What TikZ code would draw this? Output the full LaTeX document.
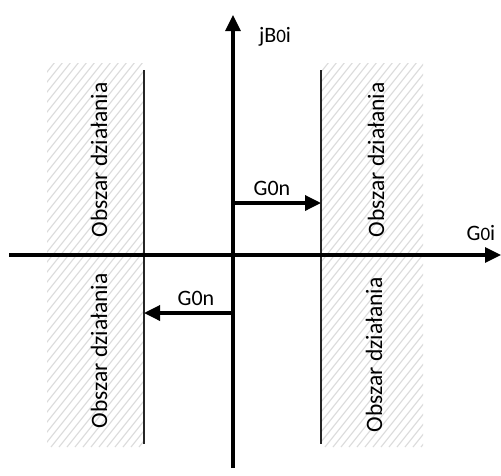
\documentclass[tikz,border=0pt]{standalone}
\usepackage{fontspec}
\setmainfont{Carlito}
\usetikzlibrary{arrows.meta}
\tikzset{
  axis/.style={line width=3.2pt, -{Triangle[length=16pt,width=15pt]}},
  movearrow/.style={line width=3.4pt, -{Triangle[length=16pt,width=15pt]}},
  bound/.style={line width=1.2pt, black!85},
  hatchline/.style={line width=1.1pt, black!14},
  zone/.style={rotate=90, font=\fontsize{23.5}{27}\selectfont, inner sep=0pt},
  lbl/.style={font=\fontsize{22}{26}\selectfont, inner sep=0pt, anchor=base},
}
\newcommand{\hatchzone}[4]{%
  \begin{scope}
    \clip (#1,#2) rectangle (#3,#4);
    \foreach \k in {-500,-492,...,500} {
      \draw[hatchline] (\k+#1,#4) -- ++(400,-400*1.25);
    }
  \end{scope}}
\begin{document}
\begin{tikzpicture}[x=1pt,y=-1pt]
  \useasboundingbox (0,0) rectangle (501,475);
  \fill[white] (0,0) rectangle (501,475);

  % hatched operating zones
  \hatchzone{47}{63}{144}{447}
  \hatchzone{321}{63}{423}{447}

  % zone boundaries
  \coordinate (lt) at (144,70);
  \coordinate (lb) at (144,444);
  \coordinate (rt) at (321,70);
  \coordinate (rb) at (321,444);
  \draw[bound] (lt) -- (lb);
  \draw[bound] (rt) -- (rb);

  % zone labels
  \node[zone] (z1) at (99,160) {Obszar działania};
  \node[zone] (z2) at (99,351) {Obszar działania};
  \node[zone] (z3) at (376,160) {Obszar działania};
  \node[zone] (z4) at (374,355) {Obszar działania};

  % axes
  \coordinate (xs) at (9,255);
  \coordinate (xe) at (501,255);
  \coordinate (ys) at (233,468);
  \coordinate (ye) at (233,15);
  \draw[axis] (xs) -- (xe);
  \draw[axis] (ys) -- (ye);
  \node[lbl] (bl) at (275,42) {jB{\fontsize{19}{22}\selectfont 0}i};
  \node[lbl] (gl) at (481,240) {G{\fontsize{19}{22}\selectfont 0}i};

  % shift arrows
  \coordinate (a1) at (233,203);
  \coordinate (a2) at (233,313);
  \draw[movearrow] (a1) -- (a1 -| rt);
  \draw[movearrow] (a2) -- (a2 -| lt);
  \node[lbl] (g1) at (272,195) {G0n};
  \node[lbl] (g2) at (196,305) {G0n};
\end{tikzpicture}
\end{document}
